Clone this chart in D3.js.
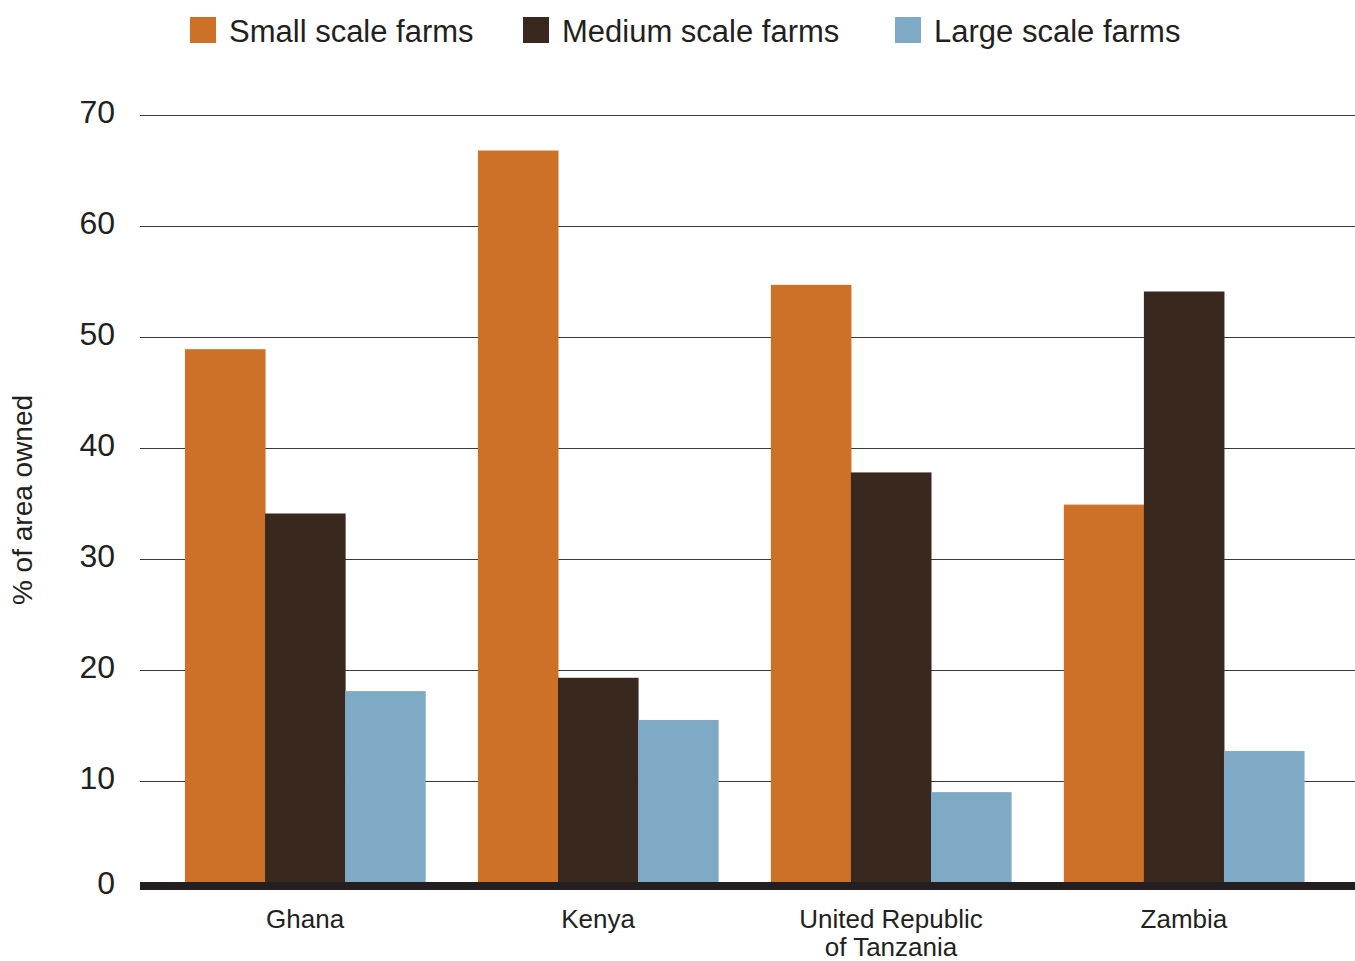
<!DOCTYPE html>
<html>
<head>
<meta charset="utf-8">
<script src="https://cdn.jsdelivr.net/npm/d3@7"></script>
<style>
  html, body { margin: 0; padding: 0; background: #fff; }
  svg { display: block; font-family: "Liberation Sans", Arial, sans-serif; }
</style>
</head>
<body>
<svg id="chart" width="1355" height="961"></svg>
<script>
const countries = ["Ghana", "Kenya", "United Republic of Tanzania", "Zambia"];
const countryLines = [["Ghana"], ["Kenya"], ["United Republic", "of Tanzania"], ["Zambia"]];
const seriesNames = ["Small scale farms", "Medium scale farms", "Large scale farms"];
const smallScale = [48.9, 66.8, 54.7, 34.9];
const mediumScale = [34.1, 19.3, 37.8, 54.1];
const largeScale = [18.1, 15.5, 9.0, 12.7];
const yTicks = [0, 10, 20, 30, 40, 50, 60, 70];
const colors = ["#CD7128", "#38281D", "#7FAAC6"];

const seriesValues = [smallScale, mediumScale, largeScale];
const data = countries.map((c, i) => ({
  country: c,
  lines: countryLines[i],
  values: seriesNames.map((s, j) => ({ series: s, value: seriesValues[j][i], idx: j }))
}));

const svg = d3.select("#chart");
const plotLeft = 140, plotRight = 1355;

const y = d3.scaleLinear().domain([0, 70]).range([892, 115]);
const x0 = d3.scaleBand().domain(countries).range([158.6, 1330.4]).paddingInner(0.18).paddingOuter(0.09);
const x1 = d3.scaleBand().domain(seriesNames).range([0, x0.bandwidth()]).padding(0);

// gridlines
svg.append("g").selectAll("line").data(yTicks.filter(t => t > 0)).join("line")
  .attr("x1", plotLeft).attr("x2", plotRight)
  .attr("y1", d => Math.round(y(d)) + 0.5).attr("y2", d => Math.round(y(d)) + 0.5)
  .attr("stroke", "#3a3a3a").attr("stroke-width", 1.2);

// tick labels
svg.append("g").selectAll("text").data(yTicks).join("text")
  .attr("x", 115).attr("y", d => d === 0 ? y(d) - 6 : y(d))
  .attr("text-anchor", "end").attr("dominant-baseline", "middle")
  .attr("font-size", 32).attr("fill", "#231F20")
  .text(d => d);

const baseBottom = y(0) - 2;
// bars
const groups = svg.append("g").selectAll("g").data(data).join("g")
  .attr("transform", d => `translate(${x0(d.country)},0)`);
groups.selectAll("rect").data(d => d.values).join("rect")
  .attr("x", d => x1(d.series))
  .attr("width", x1.bandwidth() + 0.5)
  .attr("y", d => y(d.value))
  .attr("height", d => baseBottom - y(d.value))
  .attr("fill", d => colors[d.idx]);

// baseline
svg.append("rect")
  .attr("x", plotLeft).attr("width", plotRight - plotLeft)
  .attr("y", baseBottom - 8).attr("height", 8)
  .attr("fill", "#231F20");

// category labels
const catLabels = svg.append("g").selectAll("text").data(data).join("text")
  .attr("text-anchor", "middle")
  .attr("font-size", 26).attr("fill", "#231F20")
  .attr("transform", d => `translate(${x0(d.country) + x0.bandwidth() / 2},928)`);
catLabels.selectAll("tspan").data(d => d.lines).join("tspan")
  .attr("x", 0).attr("dy", (d, i) => i === 0 ? 0 : 28)
  .text(d => d);

// y axis title
svg.append("text")
  .attr("transform", "translate(32,500) rotate(-90)")
  .attr("text-anchor", "middle")
  .attr("font-size", 28).attr("fill", "#231F20")
  .text("% of area owned");

// legend
const legendX = [190, 523, 895];
const legend = svg.append("g").selectAll("g").data(seriesNames).join("g")
  .attr("transform", (d, i) => `translate(${legendX[i]},17)`);
legend.append("rect").attr("width", 26).attr("height", 26)
  .attr("fill", (d, i) => colors[i]);
legend.append("text").attr("x", 39).attr("y", 25)
  .attr("font-size", 31).attr("fill", "#231F20")
  .text(d => d);
</script>
</body>
</html>
